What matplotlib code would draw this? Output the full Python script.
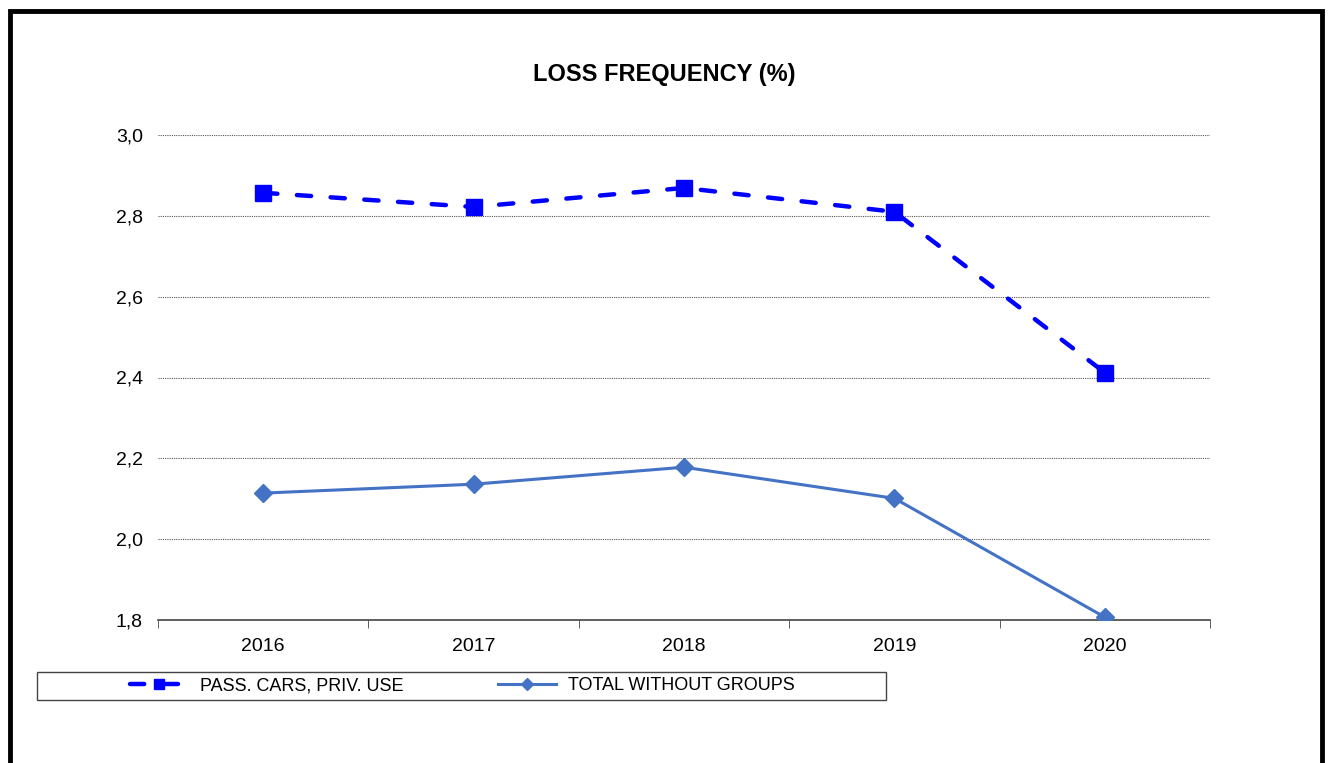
import matplotlib
matplotlib.use('Agg')
import matplotlib.pyplot as plt
from matplotlib.patches import Rectangle
from matplotlib.ticker import FixedLocator, FuncFormatter

years = ['2016', '2017', '2018', '2019', '2020']
pass_cars = [2.857, 2.822, 2.869, 2.810, 2.412]
total = [2.114, 2.136, 2.178, 2.101, 1.807]
y_ticks = [1.8, 2.0, 2.2, 2.4, 2.6, 2.8, 3.0]

plt.rcParams['font.family'] = ['Liberation Sans', 'DejaVu Sans']

fig = plt.figure(figsize=(13.28, 7.63), dpi=100)
W, H = 1328, 763
ax = fig.add_axes([158 / W, 1 - 620 / H, (1210 - 158) / W, (620 - 135) / H])

x = list(range(len(years)))
ax.plot(x, pass_cars, color='#0000FF', lw=3.2, dashes=(3.2, 4.4),
        dash_capstyle='round', marker='s', ms=11, mec='#0000FF',
        label='PASS. CARS, PRIV. USE', zorder=4)
ax.plot(x, total, color='#4472C4', lw=2.2, marker='D', ms=9.5,
        label='TOTAL WITHOUT GROUPS', zorder=3)

ax.set_xlim(-0.5, len(years) - 0.5)
ax.set_ylim(1.8, 3.0)
ax.set_yticks(y_ticks)
ax.yaxis.set_major_formatter(FuncFormatter(lambda v, p: f'{v:.1f}'.replace('.', ',')))
ax.set_xticks(x)
ax.set_xticklabels(years)
ax.xaxis.set_minor_locator(FixedLocator([i - 0.5 for i in range(len(years) + 1)]))
ax.tick_params(axis='x', which='major', length=0, pad=13, labelsize=14)
ax.tick_params(axis='x', which='minor', length=6, color='#444444')
ax.tick_params(axis='y', length=0, pad=11, labelsize=14)
ax.grid(axis='y', color='#555555', ls=(0, (1, 1)), lw=0.8)
for s in ['left', 'right', 'top']:
    ax.spines[s].set_visible(False)
ax.spines['bottom'].set_color('#444444')
ax.spines['bottom'].set_linewidth(1.2)

fig.text(664 / W, 1 - 75 / H, 'LOSS FREQUENCY (%)', ha='center', va='center',
         fontsize=17, fontweight='bold')

# legend box drawn separately, entries laid out inside it
fig.patches.append(Rectangle((37 / W, 1 - 700 / H), (886 - 37) / W, 28 / H,
                             transform=fig.transFigure, fill=False,
                             edgecolor='#444444', lw=1.0))
fig.legend(loc='center left', bbox_to_anchor=(130 / W, 1 - 686 / H), ncol=2,
           fontsize=13, frameon=False, handlelength=3.2, columnspacing=5.2,
           handletextpad=0.7, borderpad=0, borderaxespad=0, markerscale=0.65)

# outer chart border
fig.patches.append(Rectangle((10 / W, -0.05), (1322 - 10) / W, 1.05 - 11 / H,
                             transform=fig.transFigure, fill=False,
                             edgecolor='black', lw=3.5))

fig.savefig('out.png', dpi=100)
